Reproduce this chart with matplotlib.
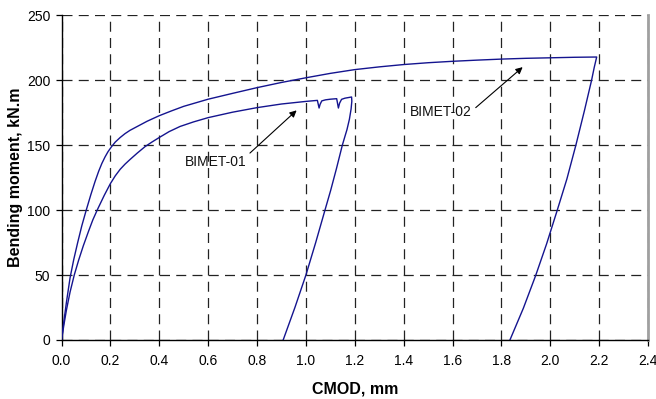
import matplotlib
matplotlib.use("Agg")
import matplotlib.pyplot as plt

plt.rcParams['font.family'] = ['Liberation Sans', 'DejaVu Sans']

# BIMET-01 (lower curve): loading, two small drops, peak, unloading
b1_x = [0.0, 0.01, 0.02, 0.035, 0.052, 0.07, 0.089, 0.11, 0.128, 0.147, 0.175, 0.2,
        0.22, 0.24, 0.26, 0.28, 0.31, 0.342, 0.37, 0.4, 0.44, 0.485, 0.54, 0.6,
        0.7, 0.8, 0.9, 1.0, 1.047, 1.054, 1.058, 1.065, 1.08, 1.1, 1.126, 1.133,
        1.138, 1.146, 1.16, 1.175, 1.187,
        1.188, 1.185, 1.178, 1.168, 1.16, 1.149, 1.125, 1.101, 1.078, 1.04, 1.0,
        0.955, 0.907]
b1_y = [0, 12, 23, 37, 50, 61.5, 72.5, 83.5, 92.5, 100.5, 111.5, 120.5,
        126.5, 131.5, 135.5, 139, 144, 149, 152.5, 156, 160.5, 164.5, 168, 171.3,
        175.5, 179, 181.8, 183.8, 184.6, 178.7, 181.5, 184.2, 185, 185.5, 185.9, 178.7,
        182.5, 185.4, 186.3, 186.8, 187.2,
        184, 178, 170, 162, 157, 150, 132, 115, 100, 75, 50,
        25, 0]

# BIMET-02 (upper curve): loading, peak, unloading
b2_x = [0.0, 0.01, 0.02, 0.035, 0.05, 0.066, 0.083, 0.101, 0.12, 0.137, 0.152, 0.165,
        0.178, 0.19, 0.205, 0.22, 0.24, 0.26, 0.28, 0.3, 0.35, 0.4, 0.45, 0.5,
        0.6, 0.7, 0.8, 0.9, 1.0, 1.1, 1.2, 1.3, 1.4, 1.5, 1.6, 1.7, 1.8, 1.9,
        2.0, 2.1, 2.19,
        2.18, 2.169, 2.14, 2.105, 2.068, 2.027, 1.985, 1.94, 1.89, 1.835]
b2_y = [0, 15, 29, 48, 62, 75, 88, 100, 112, 122, 130, 136,
        141, 145, 149, 152.5, 156, 159, 161.5, 163.5, 168.5, 172.8, 176.5, 180,
        185.5, 190, 194.4, 198.4, 202, 205.4, 208.3, 210.4, 212.2, 213.6, 214.7, 215.6, 216.4, 217,
        217.4, 217.8, 218,
        210, 200, 176.8, 150.2, 124, 99, 74, 49.5, 24.5, 0]

x_ticks = [0.0, 0.2, 0.4, 0.6, 0.8, 1.0, 1.2, 1.4, 1.6, 1.8, 2.0, 2.2, 2.4]
y_ticks = [0, 50, 100, 150, 200, 250]

fig = plt.figure(figsize=(6.56, 3.99), dpi=100)
ax = fig.add_axes([0.0938, 0.1479, 0.8940, 0.8133])

line_color = '#14148f'
ax.plot(b1_x, b1_y, color=line_color, lw=1.0, zorder=3)
ax.plot(b2_x, b2_y, color=line_color, lw=1.0, zorder=3)

ax.set_xlim(0, 2.4)
ax.set_ylim(0, 250)
ax.set_xticks(x_ticks)
ax.set_xticklabels([f"{v:.1f}" for v in x_ticks])
ax.set_yticks(y_ticks)
ax.set_yticklabels([str(v) for v in y_ticks])

ax.grid(True, color='#222222', linestyle=(0, (8, 5)), linewidth=0.9)
ax.set_axisbelow(True)

for s in ['left', 'bottom']:
    ax.spines[s].set_color('black')
    ax.spines[s].set_linewidth(1.0)
ax.spines['top'].set_visible(False)
ax.spines['right'].set_color('#a0a0a0')
ax.spines['right'].set_linewidth(2.0)

ax.tick_params(axis='both', direction='out', length=4, width=0.9, colors='black',
               labelsize=10, pad=4)
ax.tick_params(axis='x', pad=6)

ax.set_xlabel('CMOD, mm', fontsize=11.5, fontweight='bold', labelpad=10)
ax.set_ylabel('Bending moment, kN.m', fontsize=11.5, fontweight='bold', labelpad=3)

arrow_kw = dict(arrowstyle='-|>', color='black', lw=0.8, mutation_scale=10,
                shrinkA=0, shrinkB=0)
ax.text(0.757, 137, 'BIMET-01', ha='right', va='center', fontsize=10, color='#111111')
ax.annotate('', xy=(0.962, 176.9), xytext=(0.771, 144), arrowprops=arrow_kw)
ax.text(1.68, 175.6, 'BIMET-02', ha='right', va='center', fontsize=10, color='#111111')
ax.annotate('', xy=(1.887, 210.2), xytext=(1.695, 179), arrowprops=arrow_kw)

fig.savefig('out.png', dpi=100)
